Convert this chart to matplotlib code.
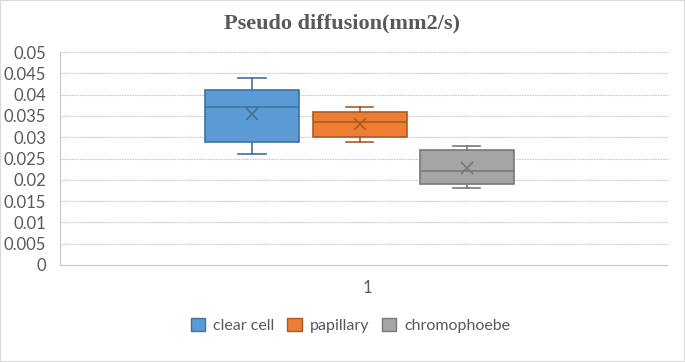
import matplotlib
matplotlib.use("Agg")
import matplotlib.pyplot as plt
from matplotlib.patches import Patch

# values
groups = ["clear cell", "papillary", "chromophoebe"]
whislo = [0.026, 0.029, 0.018]
q1 = [0.029, 0.030, 0.019]
med = [0.037, 0.0335, 0.022]
q3 = [0.041, 0.036, 0.027]
whishi = [0.044, 0.037, 0.028]
means = [0.0354, 0.0331, 0.0228]
yticks = [0, 0.005, 0.01, 0.015, 0.02, 0.025, 0.03, 0.035, 0.04, 0.045, 0.05]
ytick_labels = ["0", "0.005", "0.01", "0.015", "0.02", "0.025", "0.03",
                "0.035", "0.04", "0.045", "0.05"]

fills = ["#5B9BD5", "#ED7D31", "#A5A5A5"]
edges = ["#41719C", "#AE5A21", "#787878"]
positions = [0.816, 0.993, 1.169]
txt = "#595959"
grid_c = "#C8C8C8"

plt.rcParams["font.family"] = ["Lato", "DejaVu Sans"]

fig = plt.figure(figsize=(6.85, 3.62), dpi=100)
fig.patches.append(plt.Rectangle((0, 0), 1, 1, transform=fig.transFigure,
                                 fill=False, edgecolor="#D9D9D9", lw=1.5))
ax = fig.add_axes([0.0876, 0.268, 0.8874, 0.588])

for i in range(len(groups)):
    stats = [dict(whislo=whislo[i], q1=q1[i], med=med[i], q3=q3[i],
                  whishi=whishi[i], mean=means[i], fliers=[])]
    ax.bxp(stats, positions=[positions[i]], widths=0.155, showmeans=True,
           patch_artist=True, manage_ticks=False,
           boxprops=dict(facecolor=fills[i], edgecolor=edges[i], lw=1.2),
           medianprops=dict(color=edges[i], lw=1.2),
           whiskerprops=dict(color=edges[i], lw=1.2),
           capprops=dict(color=edges[i], lw=1.2),
           capwidths=0.045,
           meanprops=dict(marker="x", markeredgecolor=edges[i],
                          markersize=8, markeredgewidth=1.2))

ax.set_xlim(0.5, 1.5)
ax.set_ylim(0, 0.05)
ax.set_yticks(yticks)
ax.set_yticklabels(ytick_labels)
ax.set_xticks([1.005])
ax.set_xticklabels(["1"])
ax.tick_params(axis="y", length=0, labelcolor=txt, labelsize=12, pad=10)
ax.tick_params(axis="x", length=0, labelcolor=txt, labelsize=12, pad=11)
ax.grid(axis="y", color=grid_c, linestyle=(0, (1.5, 1)), lw=0.8)
ax.set_axisbelow(True)
for s in ["top", "right"]:
    ax.spines[s].set_visible(False)
for s in ["left", "bottom"]:
    ax.spines[s].set_color(grid_c)
    ax.spines[s].set_linestyle((0, (1.5, 1)))
    ax.spines[s].set_linewidth(0.8)

fig.text(0.5, 0.935, "Pseudo diffusion(mm2/s)", ha="center", va="center",
         fontsize=16, fontweight="bold", color=txt, family="Liberation Serif")

handles = [Patch(facecolor=fills[i], edgecolor=edges[i], label=groups[i])
           for i in range(len(groups))]
fig.legend(handles=handles, loc="center", bbox_to_anchor=(0.512, 0.1),
           ncol=3, frameon=False, fontsize=11.5, labelcolor=txt,
           handlelength=0.9, handleheight=0.9, columnspacing=0.8,
           handletextpad=0.5)

fig.savefig("out.png", dpi=100)
